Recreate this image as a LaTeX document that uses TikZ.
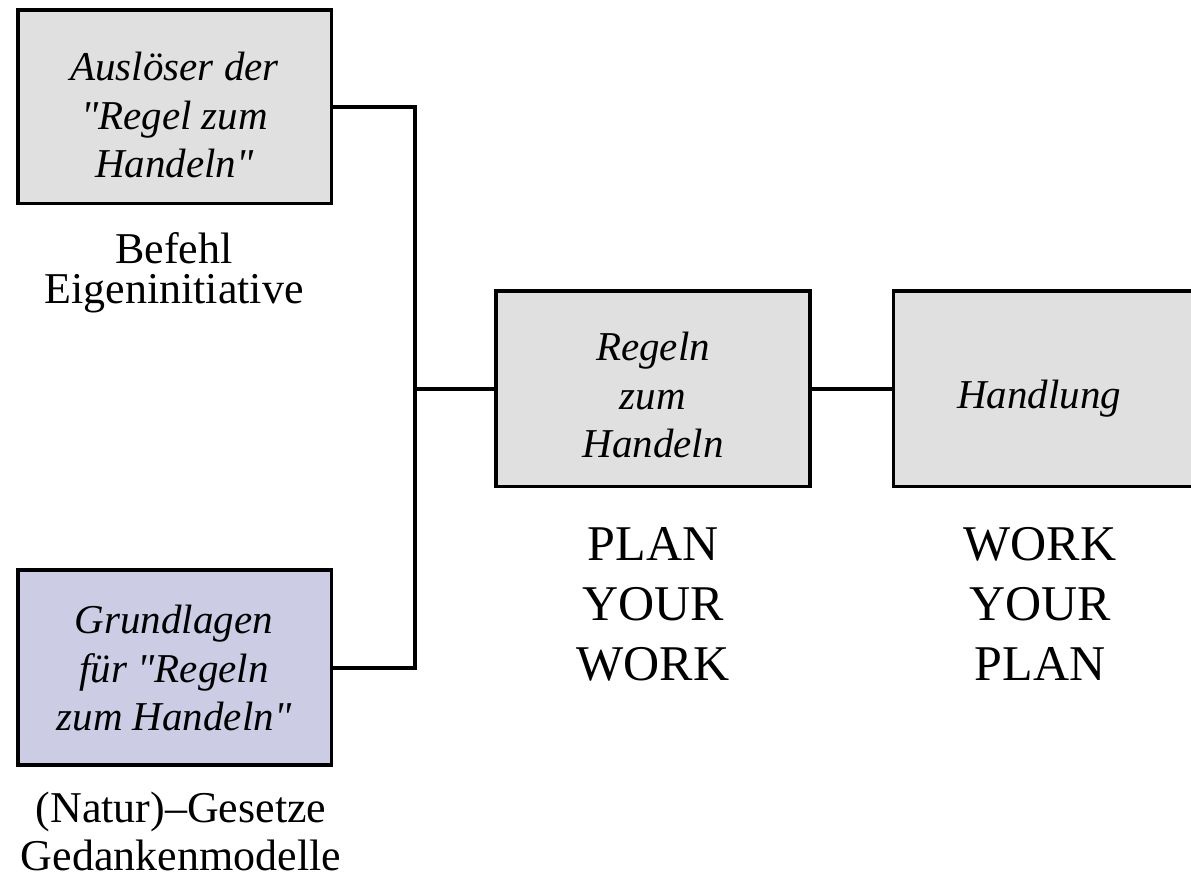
\documentclass[tikz,border=0pt]{standalone}
\usepackage{fontspec}
\setmainfont{Liberation Serif}[Ligatures=TeXOff]
\definecolor{boxgray}{RGB}{224,224,224}
\definecolor{boxlav}{RGB}{204,204,228}
\tikzset{
  box/.style={draw=black, line width=3.7pt, rectangle, inner sep=0pt, line join=miter},
  conn/.style={draw=black, line width=4pt, line join=miter},
  boxtext/.style={anchor=north, inner sep=0pt, align=center, font=\fontsize{41}{48.5}\selectfont\itshape},
  captext/.style={anchor=north, inner sep=0pt, align=center, font=\fontsize{44}{40}\selectfont},
  bigtext/.style={anchor=north, inner sep=0pt, align=center, font=\fontsize{50}{60}\selectfont}
}
\begin{document}
\begin{tikzpicture}[x=1pt, y=-1pt]
\useasboundingbox (0,0) rectangle (1191,878);
% boxes
\node[box, fill=boxgray, minimum width=313.5pt, minimum height=193.5pt] (b1) at (174.75,106.75) {};
\node[box, fill=boxlav, minimum width=313.5pt, minimum height=195pt] (b2) at (174.75,667.5) {};
\node[box, fill=boxgray, minimum width=314.2pt, minimum height=195.5pt] (b3) at (653.1,388.75) {};
\node[box, fill=boxgray, minimum width=314pt, minimum height=195.5pt] (b4) at (1050.5,388.75) {};
% box texts
\node[boxtext] (t1) at (174.5,52) {Auslöser der\\"Regel zum\\Handeln"};
\node[boxtext] (t2) at (174,605) {Grundlagen\\für "Regeln\\zum Handeln"};
\node[boxtext] (t3) at (653,332) {Regeln\\zum\\Handeln};
\node[boxtext] (t4) at (1039,380) {Handlung};
% captions
\node[captext] (c1) at (174,232) {Befehl\\Eigeninitiative};
\node[captext, font=\fontsize{44}{48}\selectfont] (c2) at (181,792) {(Natur)–Gesetze\\Gedankenmodelle};
\node[bigtext] (c3) at (653,527) {PLAN\\YOUR\\WORK};
\node[bigtext] (c4) at (1040,527) {WORK\\YOUR\\PLAN};
% connectors
\coordinate (j) at (415.3,388.75);
\draw[conn] (b1.east) -| (j);
\draw[conn] (b2.east) -| (j);
\draw[conn] (j) -- (b3.west);
\draw[conn] (b3.east) -- (b4.west);
\end{tikzpicture}
\end{document}
